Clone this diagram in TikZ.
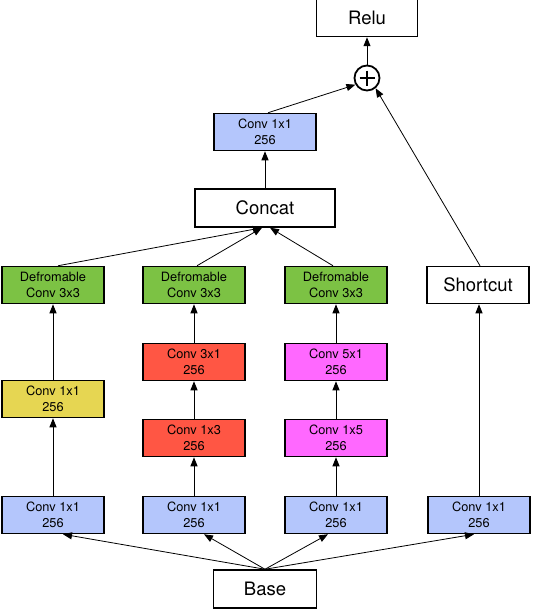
\documentclass[tikz,border=0pt]{standalone}
\usepackage{fontspec}
\setmainfont{TeX Gyre Heros}
\usetikzlibrary{arrows.meta,calc}
\definecolor{cblue}{RGB}{180,198,252}
\definecolor{cgreen}{RGB}{124,194,68}
\definecolor{cred}{RGB}{255,86,68}
\definecolor{cyellow}{RGB}{230,214,82}
\definecolor{cmag}{RGB}{255,104,255}
\begin{document}
\begin{tikzpicture}[x=1pt,y=-1pt,
  box/.style={draw=black,line width=1.5pt,minimum width=102pt,minimum height=37pt,inner sep=0pt,align=center,font=\fontsize{12.8}{15.5}\selectfont},
  bigbox/.style={box,font=\fontsize{18.5}{20}\selectfont},
  arr/.style={-{Triangle[length=9pt,width=7pt]},line width=0.8pt}]
\useasboundingbox (0,0) rectangle (534,610);
\node[bigbox,minimum width=101pt] (relu) at (367,18) {Relu};
\node[draw,circle,line width=1.8pt,minimum size=25pt,inner sep=0pt] (plus) at (367,78) {};
\draw[line width=1.8pt] ($(plus.center)+(-7.5,0)$) -- ($(plus.center)+(7.5,0)$);
\draw[line width=1.8pt] ($(plus.center)+(0,-7.5)$) -- ($(plus.center)+(0,7.5)$);
\node[box,fill=cblue] (ct) at (265,132) {Conv 1x1\\256};
\node[bigbox,minimum width=140pt,minimum height=38pt] (concat) at (265,208) {Concat};
\node[box,fill=cgreen] (d1) at (53,285) {Defromable\\Conv 3x3};
\node[box,fill=cgreen] (d2) at (194,285) {Defromable\\Conv 3x3};
\node[box,fill=cgreen] (d3) at (336,285) {Defromable\\Conv 3x3};
\node[bigbox] (sc) at (478,285) {Shortcut};
\node[box,fill=cyellow] (y1) at (53,399) {Conv 1x1\\256};
\node[box,fill=cred] (r31) at (194,362) {Conv 3x1\\256};
\node[box,fill=cmag] (m51) at (336,362) {Conv 5x1\\256};
\node[box,fill=cred] (r13) at (194,438) {Conv 1x3\\256};
\node[box,fill=cmag] (m15) at (336,438) {Conv 1x5\\256};
\node[box,fill=cblue] (b1) at (53,515) {Conv 1x1\\256};
\node[box,fill=cblue] (b2) at (194,515) {Conv 1x1\\256};
\node[box,fill=cblue] (b3) at (336,515) {Conv 1x1\\256};
\node[box,fill=cblue] (b4) at (479,515) {Conv 1x1\\256};
\node[bigbox,minimum width=103pt,minimum height=38pt] (base) at (265,589) {Base};
% base fan-out
\draw[arr] (base.north) -- ([xshift=10pt]b1.south);
\draw[arr] (base.north) -- ([xshift=10pt]b2.south);
\draw[arr] (base.north) -- ([xshift=-8pt]b3.south);
\draw[arr] (base.north) -- ([xshift=-5pt]b4.south);
% columns
\draw[arr] (b1) -- (y1);
\draw[arr] (y1) -- (d1);
\draw[arr] (b2) -- (r13);
\draw[arr] (r13) -- (r31);
\draw[arr] (r31) -- (d2);
\draw[arr] (b3) -- (m15);
\draw[arr] (m15) -- (m51);
\draw[arr] (m51) -- (d3);
\draw[arr] (b4.north) -- (sc.south -| b4.north);
% concat
\draw[arr] ([xshift=5pt]d1.north) -- ([xshift=-3pt]concat.south);
\draw[arr] ([xshift=3pt]d2.north) -- ([xshift=-3pt]concat.south);
\draw[arr] ([xshift=-3pt]d3.north) -- ([xshift=5pt]concat.south);
\draw[arr] (concat) -- (ct);
% top
\draw[arr] ([xshift=3pt]ct.north) -- (plus.210);
\draw[arr] ([xshift=2pt]sc.north) -- (plus.-50);
\draw[arr] (plus) -- (relu);
\end{tikzpicture}
\end{document}
